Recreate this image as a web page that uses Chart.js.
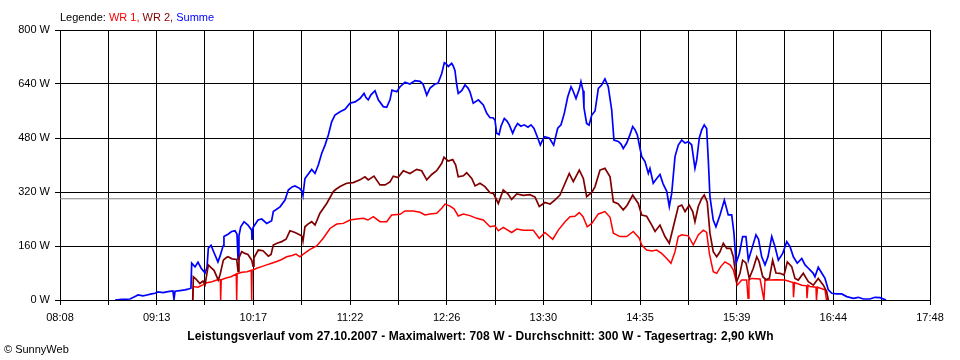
<!DOCTYPE html>
<html>
<head>
<meta charset="utf-8">
<script src="https://cdn.jsdelivr.net/npm/chart.js@4.4.0/dist/chart.umd.min.js"></script>
<style>
  html, body { margin:0; padding:0; background:#fff; }
  #wrap { position:relative; width:960px; height:360px; overflow:hidden; font-family:"Liberation Sans", Arial, sans-serif; }
  canvas { position:absolute; left:0; top:0; }
  .txt { position:absolute; white-space:nowrap; font-size:11px; line-height:13px; color:#000; }
  #legend { left:60px; top:11px; }
  #title { left:0; width:961px; text-align:center; top:330px; font-weight:bold; font-size:12px; letter-spacing:0.1px; }
  #copy { left:4px; top:343px; }
</style>
</head>
<body>
<div id="wrap">
  <canvas id="c" width="960" height="360"></canvas>
  <div class="txt" id="legend">Legende: <span style="color:#ff0000">WR 1,</span> <span style="color:#800000">WR 2,</span> <span style="color:#0000ff">Summe</span></div>
  <div class="txt" id="title">Leistungsverlauf vom 27.10.2007 - Maximalwert: 708 W - Durchschnitt: 300 W - Tagesertrag: 2,90 kWh</div>
  <div class="txt" id="copy">© SunnyWeb</div>
</div>
<script>
// x values: minutes of the day; y values: power in W
const timeLabels = ['08:08','09:13','10:17','11:22','12:26','13:30','14:35','15:39','16:44','17:48'];
const yTickValues = [0,160,320,480,640,800];
const averageW = 300;

const summe = [
 [524.7,0],[529.3,2],[534.7,3],[538.7,12],[540,15],[543.3,12],[545.3,14],[549.1,18],[551.3,20],[553.3,24],
 [556.7,22],[560,25],[563.3,27],[564,2],[564.7,26],[568,28],[571.3,30],[573.3,32],[575.3,35],[575.8,109],
 [578,98],[580,112],[582,95],[584.7,80],[586,96],[586.9,154],[588.7,162],[590.7,140],[593.3,113],[594.7,130],
 [596.7,160],[597.3,188],[600,195],[602.4,203],[604.7,205],[606,195],[606.7,120],[607.3,190],[608.5,217],[610.7,232],
 [613.3,222],[615.8,207],[616,178],[616.7,215],[620,237],[622.5,240],[625.8,227],[629.1,235],[630.2,262],[634.7,276],
 [638,296],[640.2,326],[642.7,335],[644.7,338],[648,330],[649.5,321],[650,310],[651.3,360],[655.8,387],[658,375],
 [660.2,400],[662.5,435],[664.7,459],[666.9,489],[669.1,528],[671.3,548],[674.7,558],[678,565],[681.3,583],[684.7,587],
 [688,597],[690.7,612],[692,600],[693.5,593],[695.3,608],[698,620],[700.2,593],[703.5,573],[705.8,571],[708,593],
 [709.3,622],[712.5,617],[714.7,632],[718,645],[721.3,640],[724.7,650],[728,648],[730,640],[732.5,607],[734.7,628],
 [738,640],[740,642],[742.5,671],[744.2,703],[745.3,700],[746.9,692],[749.1,701],[750,695],[751.3,680],[752.5,637],
 [753.5,612],[755.8,620],[758,637],[760,628],[761.3,617],[763.5,583],[766.9,593],[770.2,578],[772.5,553],[774.7,540],
 [776.7,540],[778,533],[779.1,494],[780.7,490],[782,515],[784.2,538],[786,530],[787.5,519],[789.8,494],[791.3,510],
 [793.1,523],[795.3,515],[797.5,519],[800,512],[802,519],[804,508],[806.5,480],[808.2,459],[809.3,470],[810.9,484],
 [814.2,480],[817.1,459],[819.8,509],[822,519],[824.2,553],[826.5,602],[828.7,632],[830,620],[832,597],[834.2,625],
 [835.3,647],[836.7,620],[837.3,570],[839.1,523],[840.7,518],[842.5,548],[844.7,560],[846.9,627],[849.1,637],[851.3,655],
 [853.5,632],[855.8,563],[857.3,474],[860.2,470],[862,462],[863.5,449],[865.8,465],[868,490],[869.8,514],[871.3,505],
 [872.9,489],[874.7,449],[875.8,425],[878,410],[880.2,375],[881.3,390],[883.5,346],[885.8,360],[888,372],[890,345],
 [892.5,322],[894.2,277],[895.8,316],[898,425],[900.2,459],[902.5,474],[904.7,465],[906.9,469],[909.1,460],[911.3,390],
 [912.5,415],[914.2,480],[915.8,504],[917.5,519],[919.1,508],[920.2,415],[921.3,306],[923.5,237],[925.3,217],[928,252],
 [930.9,296],[933.5,252],[935.8,252],[937.3,198],[938.7,109],[940.9,138],[943.1,188],[945.3,188],[946.9,118],[949.1,150],
 [952,193],[953.7,180],[955.8,128],[958,104],[960,128],[962.5,188],[964.7,158],[966.9,118],[969.8,138],[972.5,173],
 [974.7,158],[976.9,128],[979.5,109],[982.5,123],[984.7,104],[986.9,94],[989.1,84],[990.2,79],[991.3,69],[993.5,97],
 [995.8,80],[998,64],[1000.2,30],[1002.5,20],[1005.8,18],[1009.1,18],[1012.5,10],[1016.9,5],[1020.2,8],[1023.5,3],
 [1028,3],[1031.3,8],[1034.7,7],[1038.7,0]
];

const wr2 = [
 [576.5,0],[576.9,69],[578.7,62],[581.3,49],[583.3,56],[584.7,45],[586.9,104],[588.7,96],[590.7,88],[593.5,59],
 [594.7,75],[596.9,118],[598.7,125],[600,128],[602.7,122],[605.8,120],[606.7,85],[607.3,125],[609.1,143],[611.3,138],
 [613.3,135],[615.8,118],[616.7,100],[617.3,125],[620.2,148],[623.3,146],[626.9,130],[628.7,135],[630.2,163],[632.7,168],
 [635.8,173],[638.7,180],[641.3,205],[644.7,200],[648,193],[649.5,188],[650,175],[651.3,217],[653.3,225],[655.8,232],
 [658,222],[661.3,257],[665.8,286],[670.2,321],[672,328],[674.7,336],[679.1,346],[683.5,348],[688,356],[691.3,365],
 [693.5,356],[697.3,367],[701.3,341],[704.7,341],[708,350],[710.2,367],[713.3,363],[716.9,383],[721.3,375],[725.8,387],
 [729.1,383],[732.5,356],[735.8,372],[739.1,383],[742.5,405],[744,423],[746.7,412],[749.8,416],[751.8,400],[753.5,365],
 [756.9,368],[759.1,377],[762.5,360],[764.7,338],[768,346],[771.3,336],[774.7,318],[776.9,316],[778.7,300],[780.2,286],
 [783.5,326],[786.7,314],[789.1,298],[792.5,314],[796.9,310],[801.3,312],[804.7,305],[807.5,277],[811.3,289],[814.7,284],
 [818,297],[821.3,311],[824.7,346],[827.5,375],[830.2,351],[834.2,385],[836.9,360],[839.1,306],[842.5,319],[844.7,336],
 [848,385],[851.3,390],[854.7,365],[856.9,291],[860,285],[863.5,267],[866,280],[869.8,311],[873.5,286],[875.8,252],
 [879.1,248],[882.5,222],[884.7,203],[888,222],[891.3,188],[894.2,168],[896.9,217],[900.2,277],[902.5,281],[904.7,262],
 [907.5,281],[909.8,262],[911.3,232],[913.5,277],[915.8,301],[917.5,311],[919.5,290],[921.3,198],[923.5,143],[925.8,128],
 [928,143],[930.2,168],[932.5,153],[935.1,153],[936.9,128],[939.1,54],[941.3,79],[943.1,118],[945.3,110],[947.5,64],
 [950.2,94],[952.5,128],[954,115],[956.5,69],[958.7,60],[960.9,64],[963.1,118],[965.3,80],[968,79],[970.7,74],
 [972.9,113],[975.8,99],[978,64],[980.2,59],[983.5,79],[986.9,54],[990.2,44],[993.5,64],[996.9,44],[999.1,25],
 [1000.2,0]
];

const wr1 = [
 [576.5,0],[576.9,40],[580,38],[583.3,45],[585.8,51],[589.3,54],[592.5,59],[594.9,60],[595.1,0],[595.5,60],
 [598.7,65],[602,69],[605.5,77],[605.8,0],[606.1,78],[609.3,82],[612.7,84],[615.5,88],[615.8,0],[616.1,88],
 [619.1,94],[622.5,99],[625.8,104],[629.1,109],[632.5,114],[635.8,120],[639.1,128],[642.7,132],[645.3,136],[648,128],
 [650,135],[654.7,150],[659.1,160],[663.5,183],[668,212],[672.5,225],[676.9,227],[681.3,237],[685.8,240],[690.2,242],
 [693.3,237],[696.9,247],[701.3,232],[705.8,232],[709.1,252],[714.7,254],[718,264],[723.5,264],[728,260],[731.3,252],
 [734.7,255],[739.1,257],[742.5,272],[744.7,284],[748,278],[750.7,270],[753.5,249],[756.9,255],[761.3,250],[765.8,242],
 [770.2,237],[774.7,217],[778,220],[780.2,205],[783.5,215],[789.1,200],[792.5,210],[796.9,207],[803.5,207],[807.5,183],
 [811.3,200],[816.5,180],[820.2,207],[824.7,232],[828,247],[831.3,248],[834.2,259],[836.7,247],[839.5,217],[842.5,227],
 [846.9,255],[851.3,262],[854.7,245],[856.9,198],[861.3,188],[865.8,188],[870.2,203],[874.2,183],[875.8,163],[879.1,148],
 [882.5,145],[885.8,148],[889.1,138],[892.5,123],[895.3,109],[898,143],[900.2,188],[902.5,193],[906.9,190],[910.2,163],
 [913.5,193],[916.9,207],[919.1,200],[920.9,138],[923.5,84],[925.8,79],[928.5,99],[931.3,113],[934.7,104],[936.9,89],
 [939.5,44],[942.5,59],[945.8,59],[946.7,5],[947.3,60],[949.1,64],[954.7,62],[957.3,0],[958,60],[960.2,59],
 [965.8,60],[971.3,59],[976.7,52],[977,8],[977.7,52],[982.5,44],[985.7,42],[986,5],[986.7,44],[988,40],
 [992,38],[992.3,0],[993,38],[993.5,37],[998,30],[999,0],[1000.2,0]
];

const toXY = arr => arr.map(p => ({x: p[0], y: p[1]}));
const xMin = 488, xMax = 1068;

new Chart(document.getElementById('c'), {
  type: 'line',
  data: {
    datasets: [
      { label: 'WR 2', data: toXY(wr2), borderColor: '#800000', borderWidth: 1.7 },
      { label: 'WR 1', data: toXY(wr1), borderColor: '#ff0000', borderWidth: 1.5 },
      { label: 'Summe', data: toXY(summe), borderColor: '#0000ff', borderWidth: 1.7 },
      { label: 'Durchschnitt', data: [{x: xMin, y: averageW}, {x: xMax, y: averageW}], borderColor: '#808080', borderWidth: 1 }
    ]
  },
  options: {
    responsive: false,
    animation: false,
    parsing: true,
    elements: { point: { radius: 0 }, line: { tension: 0, borderJoinStyle: 'miter' } },
    layout: { padding: { top: 30, right: 30, left: 0, bottom: 0 } },
    plugins: { legend: { display: false }, title: { display: false }, tooltip: { enabled: false } },
    scales: {
      x: {
        type: 'linear', min: xMin, max: xMax,
        afterBuildTicks: s => { s.ticks = Array.from({length: 19}, (_, i) => ({ value: xMin + i * (xMax - xMin) / 18 })); },
        afterFit: s => { s.height = 60; },
        ticks: { autoSkip: false, maxRotation: 0, padding: 6, color: '#000', font: { family: 'Liberation Sans', size: 11 },
                 callback: (v, i) => (i % 2 === 0 ? timeLabels[i / 2] : '') },
        grid: { color: '#000', lineWidth: 1, tickLength: 5 },
        border: { color: '#000', width: 1 }
      },
      y: {
        min: 0, max: 800,
        afterBuildTicks: s => { s.ticks = yTickValues.map(v => ({ value: v })); },
        afterFit: s => { s.width = 60; },
        ticks: { padding: 5, color: '#000', font: { family: 'Liberation Sans', size: 11 }, callback: v => v + ' W' },
        grid: { color: '#000', lineWidth: 1, tickLength: 5 },
        border: { color: '#000', width: 1 }
      }
    }
  }
});
</script>
</body>
</html>
